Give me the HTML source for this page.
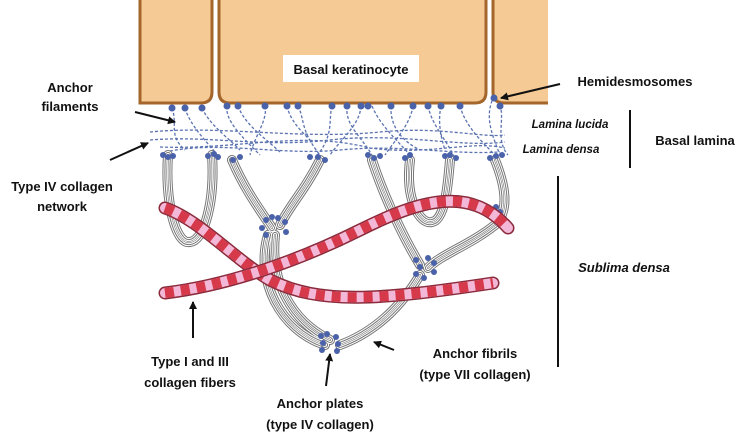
<!DOCTYPE html>
<html><head><meta charset="utf-8"><style>
html,body{margin:0;padding:0;background:#fff;}
svg{display:block;}
text{font-family:"Liberation Sans",sans-serif;font-weight:bold;fill:#111;}
</style></head><body>
<svg width="743" height="440" viewBox="0 0 743 440" xmlns="http://www.w3.org/2000/svg">
<defs>
<marker id="ah" markerWidth="8" markerHeight="8" refX="7" refY="4" orient="auto" markerUnits="userSpaceOnUse"><path d="M0,0 L8,4 L0,8 Z" fill="#111"/></marker>
</defs>
<!-- cells -->
<g fill="#f5ca94" stroke="#a5662c" stroke-width="3">
<path d="M140,-5 L212,-5 L212,92 Q212,103 201,103 L140,103 Z"/>
<path d="M219,-5 L486,-5 L486,92 Q486,103 475,103 L230,103 Q219,103 219,92 Z"/>
<path d="M493,-5 L560,-5 L560,103 L504,103 Q493,103 493,92 Z"/>
</g>
<rect x="548" y="-5" width="20" height="112" fill="#fff"/>
<rect x="283" y="55" width="136" height="27" fill="#fff"/>
<text x="351" y="74" font-size="13" text-anchor="middle">Basal keratinocyte</text>

<!-- dashed filaments -->
<g fill="none" stroke="#5a72b0" stroke-width="1.3" stroke-dasharray="3,2">
<path d="M172,108 C178,125 168,135 185,150"/>
<path d="M185,108 C190,125 205,140 215,152"/>
<path d="M202,108 C210,125 225,135 240,150"/>
<path d="M227,106 C225,120 240,135 260,155"/>
<path d="M238,106 C245,125 265,138 280,152"/>
<path d="M265,106 C268,120 255,135 250,155"/>
<path d="M287,106 C290,120 300,130 310,140"/>
<path d="M298,106 C305,120 300,130 320,155"/>
<path d="M332,106 C328,120 335,135 315,158"/>
<path d="M347,106 C345,125 360,135 372,155"/>
<path d="M361,106 C360,125 340,140 330,155"/>
<path d="M372,106 C380,125 395,138 410,155"/>
<path d="M391,106 C390,125 400,140 420,150"/>
<path d="M413,106 C410,125 395,140 385,155"/>
<path d="M428,106 C432,125 445,138 455,158"/>
<path d="M441,106 C438,120 440,135 445,150"/>
<path d="M460,106 C465,125 480,140 495,155"/>
<path d="M494,96 C485,115 490,130 500,155"/>
<path d="M500,105 C505,120 495,140 508,155"/>
<path d="M150,132 C220,125 300,140 380,132 C440,126 480,138 505,135"/>
<path d="M150,140 C210,135 260,148 330,140 C400,132 460,148 505,142"/>
<path d="M160,147 C240,150 300,130 370,148 C430,156 470,140 505,148"/>
<path d="M165,152 C220,140 280,156 340,150 C400,144 450,155 500,152"/>
</g>
<g fill="#4a62aa">
<circle cx="172" cy="108" r="3.5"/><circle cx="185" cy="108" r="3.5"/><circle cx="202" cy="108" r="3.5"/>
<circle cx="227" cy="106" r="3.5"/><circle cx="238" cy="106" r="3.5"/><circle cx="265" cy="106" r="3.5"/>
<circle cx="287" cy="106" r="3.5"/><circle cx="298" cy="106" r="3.5"/><circle cx="332" cy="106" r="3.5"/>
<circle cx="347" cy="106" r="3.5"/><circle cx="361" cy="106" r="3.5"/><circle cx="368" cy="106" r="3.5"/>
<circle cx="391" cy="106" r="3.5"/><circle cx="413" cy="106" r="3.5"/><circle cx="428" cy="106" r="3.5"/>
<circle cx="441" cy="106" r="3.5"/><circle cx="460" cy="106" r="3.5"/><circle cx="494" cy="98" r="3.5"/><circle cx="500" cy="106" r="3.5"/>
</g>

<!-- anchor fibrils -->
<g fill="none" stroke-linecap="round">
<g id="fib">
<path d="M168,155 C165,200 175,245 190,242 C205,240 215,200 212,155"/>
<path d="M232,160 C245,190 260,210 272,228"/>
<path d="M320,160 C305,190 290,205 280,225"/>
<path d="M372,160 C385,200 405,240 420,265"/>
<path d="M410,160 C405,200 420,225 432,222 C445,220 448,185 450,160"/>
<path d="M495,160 C505,185 510,210 495,225 C470,245 440,255 428,268"/>
<path d="M268,235 C255,280 280,330 325,345"/>
<path d="M420,275 C405,300 380,330 340,345"/>
<path d="M275,235 C270,280 290,320 330,340"/>
</g>
</g>
<g fill="none" stroke-linecap="round">
<use href="#fib" stroke="#777" stroke-width="10"/>
<use href="#fib" stroke="#fff" stroke-width="8"/>
<use href="#fib" stroke="#777" stroke-width="6"/>
<use href="#fib" stroke="#fff" stroke-width="4"/>
<use href="#fib" stroke="#777" stroke-width="2"/>
<use href="#fib" stroke="#fff" stroke-width="0.8"/>
</g>
<g fill="#4a62aa">
<circle cx="163" cy="155" r="3"/><circle cx="168" cy="157" r="3"/><circle cx="173" cy="156" r="3"/>
<circle cx="208" cy="156" r="3"/><circle cx="214" cy="154" r="3"/><circle cx="218" cy="157" r="3"/>
<circle cx="233" cy="160" r="3"/><circle cx="240" cy="157" r="3"/>
<circle cx="310" cy="157" r="3"/><circle cx="318" cy="157" r="3"/><circle cx="325" cy="160" r="3"/>
<circle cx="368" cy="155" r="3"/><circle cx="374" cy="158" r="3"/><circle cx="380" cy="156" r="3"/>
<circle cx="405" cy="158" r="3"/><circle cx="410" cy="155" r="3"/>
<circle cx="445" cy="156" r="3"/><circle cx="450" cy="155" r="3"/><circle cx="456" cy="158" r="3"/>
<circle cx="490" cy="158" r="3"/><circle cx="496" cy="156" r="3"/><circle cx="502" cy="155" r="3"/>
<circle cx="266" cy="220" r="3"/><circle cx="262" cy="228" r="3"/><circle cx="266" cy="235" r="3"/><circle cx="278" cy="218" r="3"/><circle cx="285" cy="222" r="3"/><circle cx="286" cy="232" r="3"/><circle cx="272" cy="217" r="3"/>
<circle cx="416" cy="260" r="3"/><circle cx="420" cy="267" r="3"/><circle cx="428" cy="258" r="3"/><circle cx="434" cy="263" r="3"/><circle cx="434" cy="272" r="3"/><circle cx="424" cy="278" r="3"/><circle cx="416" cy="274" r="3"/>
<circle cx="321" cy="336" r="3"/><circle cx="323" cy="343" r="3"/><circle cx="322" cy="350" r="3"/><circle cx="336" cy="337" r="3"/><circle cx="338" cy="344" r="3"/><circle cx="337" cy="351" r="3"/><circle cx="327" cy="334" r="3"/>
<circle cx="496" cy="207" r="3"/><circle cx="500" cy="212" r="3"/>
</g>

<!-- collagen fibers -->
<g fill="none">
<path id="fa" d="M165,208 C200,220 235,260 270,280 C320,305 380,300 493,283"/>
<path id="fb" d="M165,293 C230,285 300,260 360,230 C420,200 470,185 508,228"/>
</g>
<g fill="none">
<use href="#fa" stroke="#8a2a3a" stroke-width="13" stroke-linecap="round"/>
<use href="#fa" stroke="#f3b8d8" stroke-width="10" stroke-linecap="round"/>
<use href="#fa" stroke="#d6394a" stroke-width="10" stroke-dasharray="9,7" stroke-linecap="butt"/>
<use href="#fb" stroke="#8a2a3a" stroke-width="13" stroke-linecap="round"/>
<use href="#fb" stroke="#f3b8d8" stroke-width="10" stroke-linecap="round"/>
<use href="#fb" stroke="#d6394a" stroke-width="10" stroke-dasharray="9,7" stroke-linecap="butt"/>
</g>

<!-- labels -->
<text x="70" y="92" font-size="13" text-anchor="middle">Anchor</text>
<text x="70" y="111" font-size="13" text-anchor="middle">filaments</text>
<line x1="135" y1="112" x2="175" y2="122" stroke="#111" stroke-width="2" marker-end="url(#ah)"/>
<line x1="110" y1="160" x2="148" y2="143" stroke="#111" stroke-width="2" marker-end="url(#ah)"/>
<text x="62" y="191" font-size="13" text-anchor="middle">Type IV collagen</text>
<text x="62" y="211" font-size="13" text-anchor="middle">network</text>
<text x="635" y="86" font-size="13" text-anchor="middle">Hemidesmosomes</text>
<line x1="560" y1="84" x2="501" y2="98" stroke="#111" stroke-width="2" marker-end="url(#ah)"/>
<text x="570" y="128" font-size="11.5" font-style="italic" text-anchor="middle">Lamina lucida</text>
<text x="561" y="153" font-size="11.5" font-style="italic" text-anchor="middle">Lamina densa</text>
<line x1="630" y1="110" x2="630" y2="168" stroke="#111" stroke-width="2"/>
<text x="695" y="145" font-size="13" text-anchor="middle">Basal lamina</text>
<line x1="558" y1="176" x2="558" y2="367" stroke="#111" stroke-width="2"/>
<text x="624" y="272" font-size="13" font-style="italic" font-weight="normal" text-anchor="middle">Sublima densa</text>
<line x1="193" y1="338" x2="193" y2="302" stroke="#111" stroke-width="2" marker-end="url(#ah)"/>
<text x="190" y="366" font-size="13" text-anchor="middle">Type I and III</text>
<text x="190" y="387" font-size="13" text-anchor="middle">collagen fibers</text>
<line x1="326" y1="386" x2="330" y2="354" stroke="#111" stroke-width="2" marker-end="url(#ah)"/>
<text x="320" y="408" font-size="13" text-anchor="middle">Anchor plates</text>
<text x="320" y="429" font-size="13" text-anchor="middle">(type IV collagen)</text>
<line x1="394" y1="350" x2="374" y2="342" stroke="#111" stroke-width="2" marker-end="url(#ah)"/>
<text x="475" y="358" font-size="13" text-anchor="middle">Anchor fibrils</text>
<text x="475" y="379" font-size="13" text-anchor="middle">(type VII collagen)</text>
</svg>
</body></html>
